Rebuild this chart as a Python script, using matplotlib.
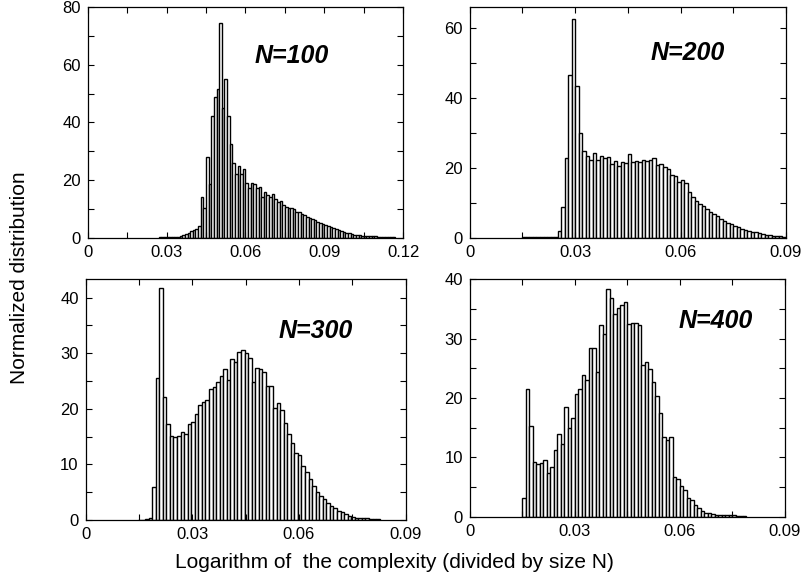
import numpy as np
import matplotlib
matplotlib.use("Agg")
import matplotlib.pyplot as plt
from matplotlib.ticker import FixedLocator, FixedFormatter

plt.rcParams['font.family'] = ['Liberation Sans', 'DejaVu Sans']

BIN = 0.001

# ---- data (heights of histogram bins, bin width 0.001) ----
start_100 = 0.027
h_100 = [0.1, 0.1, 0.15, 0.2, 0.2, 0.25, 0.3, 0.4, 0.6, 0.9,
         1.3, 1.8, 2.2, 2.5, 3.0, 4.2, 14.2, 10.2, 28.1, 18.5,
         42.2, 48.7, 51.4, 74.6, 44.9, 54.9, 42.2, 32.4, 26.0, 22.0,
         24.9, 22.1, 23.7, 19.1, 17.1, 18.8, 18.6, 17.3, 17.5, 14.2,
         16.0, 14.7, 14.0, 15.1, 13.3, 12.3, 12.7, 11.2, 10.5, 10.4,
         10.3, 10.0, 8.9, 9.0, 8.2, 7.7, 7.3, 6.8, 6.4, 6.0,
         5.5, 5.2, 4.8, 4.4, 4.0, 3.6, 3.3, 2.9, 2.6, 2.3,
         2.0, 1.8, 1.5, 1.3, 1.1, 0.9, 0.85, 0.75, 0.7, 0.6,
         0.55, 0.5, 0.45, 0.4, 0.35, 0.3, 0.25, 0.2, 0.15, 0.1]

start_200 = 0.015
h_200 = [0.1, 0.1, 0.1, 0.1, 0.1, 0.1, 0.15, 0.2, 0.2, 0.3,
         1.8, 8.8, 22.7, 46.5, 62.8, 43.6, 29.9, 24.9, 23.5, 22.3,
         24.4, 22.3, 23.4, 22.7, 23.0, 21.1, 22.1, 20.5, 21.8, 21.5,
         23.9, 21.8, 21.9, 21.6, 22.2, 21.9, 22.2, 22.9, 20.8, 21.0,
         20.2, 19.6, 18.1, 17.8, 16.0, 16.5, 15.6, 13.2, 11.8, 10.5,
         9.6, 9.0, 8.2, 7.5, 6.8, 6.2, 5.5, 4.8, 4.3, 3.9,
         3.4, 3.0, 2.6, 2.3, 2.0, 1.7, 1.5, 1.3, 1.1, 0.9,
         0.8, 0.6, 0.5, 0.4, 0.3]

start_300 = 0.0147
h_300 = [0.05, 0.05, 0.1, 0.3, 5.9, 25.5, 41.8, 22.1, 17.3, 15.1,
         15.0, 15.2, 15.8, 15.4, 17.2, 17.7, 19.1, 20.7, 21.2, 21.6,
         23.6, 24.0, 24.8, 25.9, 27.1, 25.1, 29.0, 28.5, 30.2, 30.5,
         30.0, 29.1, 24.9, 27.3, 27.2, 26.6, 24.1, 24.1, 20.1, 21.0,
         19.8, 17.4, 15.5, 13.8, 12.1, 11.7, 9.7, 8.6, 7.3, 6.1,
         5.0, 4.3, 3.7, 3.0, 2.6, 2.1, 1.7, 1.4, 1.0, 0.8,
         0.6, 0.4, 0.3, 0.3, 0.3, 0.2, 0.2, 0.1]

start_400 = 0.015
h_400 = [3.1, 21.6, 15.3, 9.3, 8.9, 9.0, 9.5, 7.3, 8.4, 11.3,
         13.9, 12.3, 18.5, 14.9, 16.7, 20.6, 21.6, 23.8, 23.0, 28.5,
         28.5, 24.3, 32.3, 30.7, 38.3, 36.9, 34.1, 35.1, 35.6, 36.2,
         32.5, 32.6, 32.7, 32.3, 25.5, 26.1, 24.9, 22.7, 20.3, 17.4,
         13.5, 13.0, 13.5, 6.7, 6.3, 5.2, 4.5, 3.2, 2.8, 2.0,
         1.4, 1.0, 0.7, 0.6, 0.4, 0.3, 0.3, 0.35, 0.3, 0.3,
         0.35, 0.2, 0.15, 0.1]

labels = ["N=100", "N=200", "N=300", "N=400"]
xticks_100 = [0, 0.03, 0.06, 0.09, 0.12]
xticklabels_100 = ["0", "0.03", "0.06", "0.09", "0.12"]
xticks_std = [0, 0.03, 0.06, 0.09]
xticklabels_std = ["0", "0.03", "0.06", "0.09"]
yticks_100 = [0, 20, 40, 60, 80]
yticks_200 = [0, 20, 40, 60]
yticks_300 = [0, 10, 20, 30, 40]
yticks_400 = [0, 10, 20, 30, 40]

W, H = 804, 575
fig = plt.figure(figsize=(W / 100, H / 100), dpi=100)


def axes_px(x0, x1, ytop, ybot):
    return fig.add_axes([x0 / W, 1 - ybot / H, (x1 - x0) / W, (ybot - ytop) / H])


panels = [
    dict(rect=(87.6, 403.3, 7, 237.7), start=start_100, h=h_100, xlim=0.12, ylim=80,
         xt=xticks_100, xtl=xticklabels_100, xminor=0.015, yt=yticks_100, yminor=10,
         lab=labels[0], lpos=(0.530, 0.757)),
    dict(rect=(469.7, 786.0, 7, 237.7), start=start_200, h=h_200, xlim=0.09, ylim=66.1,
         xt=xticks_std, xtl=xticklabels_std, xminor=0.015, yt=yticks_200, yminor=10,
         lab=labels[1], lpos=(0.571, 0.770)),
    dict(rect=(85.6, 405.6, 279.3, 520), start=start_300, h=h_300, xlim=0.09, ylim=43.3,
         xt=xticks_std, xtl=xticklabels_std, xminor=0.015, yt=yticks_300, yminor=5,
         lab=labels[2], lpos=(0.604, 0.756)),
    dict(rect=(469.7, 785.0, 279.3, 516.7), start=start_400, h=h_400, xlim=0.09, ylim=40,
         xt=xticks_std, xtl=xticklabels_std, xminor=0.015, yt=yticks_400, yminor=5,
         lab=labels[3], lpos=(0.661, 0.795)),
]

for p in panels:
    ax = axes_px(*p['rect'])
    h = np.array(p['h'])
    x = p['start'] + BIN * np.arange(len(h))
    ax.bar(x, h, width=BIN, align='edge', color='white', edgecolor='black',
           linewidth=1.0)
    ax.set_xlim(0, p['xlim'])
    ax.set_ylim(0, p['ylim'])
    ax.xaxis.set_major_locator(FixedLocator(p['xt']))
    ax.xaxis.set_major_formatter(FixedFormatter(p['xtl']))
    ax.xaxis.set_minor_locator(FixedLocator(np.arange(0, p['xlim'] + 1e-9, p['xminor'])))
    ax.yaxis.set_major_locator(FixedLocator(p['yt']))
    ax.yaxis.set_minor_locator(FixedLocator(np.arange(0, p['ylim'] + 1e-9, p['yminor'])))
    ax.tick_params(which='both', direction='in', top=True, right=True,
                   length=4, width=0.8, labelsize=12, pad=5)
    for s in ax.spines.values():
        s.set_linewidth(0.9)
    ax.text(p['lpos'][0], p['lpos'][1], p['lab'], transform=ax.transAxes,
            fontsize=18, fontweight='bold', fontstyle='italic',
            ha='left', va='baseline')

fig.text(394 / W, 1 - 563 / H, "Logarithm of  the complexity (divided by size N)",
         ha='center', va='center', fontsize=15)
fig.text(20 / W, 1 - 278 / H, "Normalized distribution", rotation=90,
         ha='center', va='center', fontsize=15)

fig.savefig("out.png", dpi=100)
